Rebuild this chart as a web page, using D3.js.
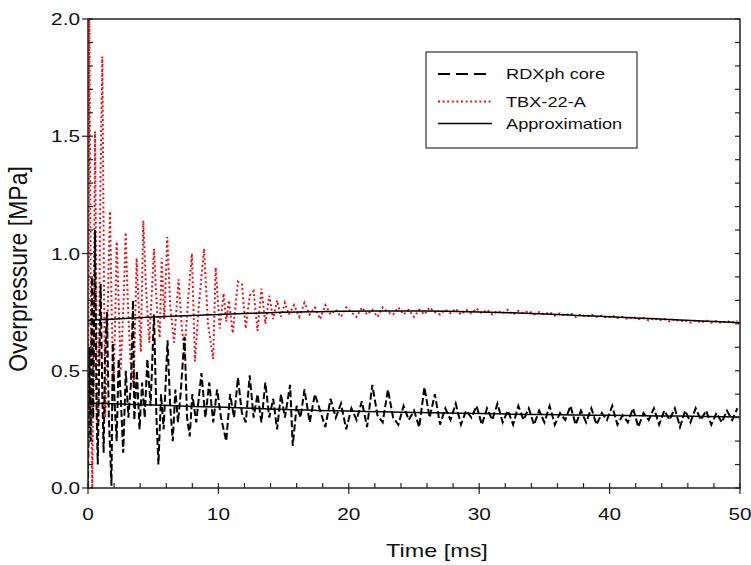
<!DOCTYPE html>
<html><head><meta charset="utf-8">
<script src="https://cdn.jsdelivr.net/npm/d3@7"></script>
<style>body{margin:0;background:#fff}text{font-family:Arial,"Liberation Sans",sans-serif;fill:#111}</style>
</head><body><svg id="c" width="751" height="565"></svg>
<script>
// ---------------- data ----------------
const seriesNames = ["RDXph core", "TBX-22-A", "Approximation"];
const xTicks = [0, 10, 20, 30, 40, 50];
const yTicks = [0.0, 0.5, 1.0, 1.5, 2.0];

// RDXph core (black dashed) - early irregular samples
const rdxEarlyT = [0,0.1,0.2,0.3,0.4,0.54,0.65,0.75,0.85,0.97,1.1,1.2,1.3,1.45,1.6,1.8,1.9,2.05,2.2,2.35,2.5,2.7,2.9,3.1,3.3,3.45,3.55,3.75,3.95,4.15,4.35,4.55,4.8,5.06,5.25,5.4,5.6,5.8,6.1,6.3,6.5,6.7,6.9,7.1,7.4,7.6,7.8,8.0,8.3,8.7,9.0,9.3,9.6,9.9,10.2,10.6,10.9,11.2,11.5,11.8,12.1,12.4,12.7,13.0,13.3,13.6,13.9,14.2,14.5,14.8,15.1,15.5,15.7,16.0,16.3,16.6];
const rdxEarlyV = [0.0,0.6,0.2,0.9,0.3,1.1,0.35,0.1,0.5,0.87,0.4,0.15,0.55,0.75,0.3,0.01,0.62,0.35,0.2,0.55,0.4,0.15,0.5,0.3,0.45,0.8,0.29,0.5,0.25,0.45,0.3,0.55,0.35,0.74,0.3,0.1,0.4,0.25,0.63,0.35,0.2,0.42,0.28,0.4,0.645,0.3,0.22,0.4,0.28,0.49,0.3,0.45,0.28,0.42,0.3,0.2,0.4,0.3,0.47,0.32,0.28,0.48,0.3,0.4,0.28,0.45,0.3,0.38,0.25,0.4,0.3,0.44,0.18,0.35,0.3,0.42];
// RDXph core - later samples every 0.4 ms from 17.0 ms
const rdxLateStart = 17.0, rdxLateStep = 0.4;
const rdxLateV = [0.28,0.40,0.33,0.26,0.38,0.30,0.36,0.25,0.34,0.29,0.37,0.26,0.44,0.31,0.28,0.42,0.30,0.27,0.35,0.29,0.33,0.26,0.43,0.30,0.40,0.27,0.34,0.29,0.36,0.27,0.33,0.30,0.35,0.27,0.34,0.29,0.36,0.28,0.33,0.27,0.35,0.29,0.34,0.27,0.33,0.28,0.35,0.27,0.32,0.29,0.35,0.27,0.33,0.28,0.34,0.27,0.32,0.29,0.35,0.27,0.31,0.28,0.34,0.26,0.32,0.29,0.34,0.27,0.33,0.29,0.34,0.26,0.33,0.28,0.34,0.29,0.33,0.27,0.32,0.28,0.33,0.29,0.34];

// TBX-22-A (red dotted) - early irregular samples
const tbxEarlyT = [0,0.05,0.1,0.18,0.25,0.33,0.42,0.54,0.65,0.75,0.85,0.95,1.1,1.22,1.32,1.45,1.58,1.69,1.82,1.95,2.08,2.2,2.35,2.5,2.7,2.89,3.05,3.25,3.5,3.73,3.95,4.05,4.24,4.45,4.7,5.06,5.3,5.5,5.65,5.85,6.08,6.3,6.6,6.95,7.2,7.4,7.7,7.97,8.2,8.5,8.9,9.2,9.6,9.79,10.1,10.4,10.6,10.8,11.1,11.5,11.8,12.1,12.4,12.7,13.0,13.3,13.6,13.9,14.2,14.5,14.8,15.1,15.4];
const tbxEarlyV = [0.0,1.0,2.0,1.2,0.3,0.0,0.6,1.52,0.7,0.15,0.6,1.3,1.84,0.9,0.3,0.55,0.95,1.18,0.75,0.45,0.7,1.05,0.8,0.5,0.75,1.09,0.8,0.55,0.43,0.98,0.7,0.58,1.14,0.85,0.62,1.02,0.75,0.64,0.98,0.72,1.07,0.78,0.62,0.89,0.68,0.575,0.82,1.0,0.54,0.78,1.02,0.7,0.55,0.94,0.68,0.83,0.71,0.8,0.66,0.88,0.87,0.68,0.82,0.84,0.67,0.85,0.7,0.82,0.72,0.8,0.73,0.79,0.74];
// TBX-22-A - later samples every 0.4 ms from 15.8 ms
const tbxLateStart = 15.8, tbxLateStep = 0.4;
const tbxLateV = [0.78,0.73,0.79,0.74,0.77,0.72,0.78,0.74,0.76,0.73,0.77,0.75,0.73,0.77,0.74,0.76,0.73,0.77,0.75,0.74,0.77,0.74,0.76,0.73,0.76,0.74,0.77,0.75,0.74,0.76,0.745,0.765,0.74,0.76,0.745,0.765,0.745,0.76,0.74,0.755,0.745,0.76,0.74,0.755,0.745,0.755,0.74,0.75,0.74,0.75,0.735,0.745,0.735,0.745,0.73,0.74,0.73,0.74,0.73,0.735,0.725,0.735,0.725,0.73,0.72,0.73,0.72,0.725,0.715,0.725,0.715,0.72,0.71,0.72,0.71,0.715,0.705,0.715,0.705,0.715,0.705,0.712,0.703,0.712,0.705,0.712];

// Approximation curves sampled every 2.5 ms
const approxT = [0,2.5,5,7.5,10,12.5,15,17.5,20,22.5,25,27.5,30,32.5,35,37.5,40,42.5,45,47.5,50];
const approxTbxV = [0.715,0.722,0.729,0.735,0.740,0.745,0.749,0.752,0.754,0.755,0.755,0.754,0.751,0.747,0.742,0.736,0.730,0.724,0.718,0.711,0.705];
const approxRdxV = [0.362,0.358,0.354,0.349,0.345,0.340,0.335,0.331,0.328,0.325,0.322,0.320,0.318,0.315,0.313,0.311,0.310,0.308,0.307,0.305,0.303];

// ---------------- chart ----------------
const svg = d3.select("#c");
const L = 88, R = 740, T = 19, B = 488;
const x = d3.scaleLinear().domain([0, 50]).range([L, R]);
const y = d3.scaleLinear().domain([0, 2]).range([B, T]);
const SX = 1.3; // horizontal text stretch of the reference

function pts(ts, vs) { return ts.map((t, i) => [t, vs[i]]); }
function latePts(start, step, vs) { return vs.map((v, i) => [start + i * step, v]); }
const rdx = pts(rdxEarlyT, rdxEarlyV).concat(latePts(rdxLateStart, rdxLateStep, rdxLateV));
const tbx = pts(tbxEarlyT, tbxEarlyV).concat(latePts(tbxLateStart, tbxLateStep, tbxLateV));
const apT = pts(approxT, approxTbxV), apR = pts(approxT, approxRdxV);

const line = d3.line().x(d => x(d[0])).y(d => y(d[1]));
const curve = d3.line().curve(d3.curveMonotoneX).x(d => x(d[0])).y(d => y(d[1]));

svg.append("clipPath").attr("id", "clip").append("rect")
  .attr("x", L).attr("y", T - 1).attr("width", R - L).attr("height", B - T + 2);
const g = svg.append("g").attr("clip-path", "url(#clip)");

g.append("path").datum(tbx).attr("d", line).attr("fill", "none")
  .attr("stroke", "#e8141b").attr("stroke-width", 2).attr("stroke-dasharray", "2,2.6");
g.append("path").datum(rdx).attr("d", line).attr("fill", "none")
  .attr("stroke", "#000").attr("stroke-width", 2).attr("stroke-dasharray", "7,3");
[apT, apR].forEach(d => g.append("path").datum(d).attr("d", curve).attr("fill", "none")
  .attr("stroke", "#000").attr("stroke-width", 1.5));

// axes
const ax = svg.append("g").attr("stroke", "#222").attr("stroke-width", 1.2);
ax.append("rect").attr("x", L).attr("y", T).attr("width", R - L).attr("height", B - T).attr("fill", "none").attr("stroke-width", 1.5);

const yMinor = d3.range(0, 2.0001, 0.1);
yTicks.forEach(v => ax.append("line").attr("x1", L - 6).attr("x2", L).attr("y1", y(v)).attr("y2", y(v)));
yMinor.forEach(v => ax.append("line").attr("x1", L).attr("x2", L + 5).attr("y1", y(v)).attr("y2", y(v)));
yMinor.forEach(v => ax.append("line").attr("x1", R - 5).attr("x2", R).attr("y1", y(v)).attr("y2", y(v)));
const xMinor = d3.range(0, 50.001, 2);
xTicks.forEach(v => ax.append("line").attr("x1", x(v)).attr("x2", x(v)).attr("y1", B).attr("y2", B + 6));
xMinor.forEach(v => ax.append("line").attr("x1", x(v)).attr("x2", x(v)).attr("y1", B).attr("y2", B - 5));

const fmt = d3.format(".1f");
yTicks.forEach(v => svg.append("text").attr("transform", `translate(80,${y(v) + 6}) scale(${SX},1)`)
  .attr("text-anchor", "end").attr("font-size", 16).text(fmt(v)));
xTicks.forEach(v => svg.append("text").attr("transform", `translate(${x(v)},${B + 32}) scale(${SX},1)`)
  .attr("text-anchor", "middle").attr("font-size", 16).text(v));

svg.append("text").attr("transform", `translate(437,557) scale(${SX},1)`).attr("text-anchor", "middle")
  .attr("font-size", 18).text("Time [ms]");
svg.append("text").attr("transform", `translate(27,269) scale(1.1,1) rotate(-90)`).attr("text-anchor", "middle")
  .attr("font-size", 23).text("Overpressure [MPa]");

// legend
const lg = svg.append("g");
lg.append("rect").attr("x", 426).attr("y", 52).attr("width", 211).attr("height", 96)
  .attr("fill", "#fff").attr("stroke", "#333").attr("stroke-width", 1.2);
const legY = [74, 101.5, 123.5];
const legStyle = [
  {stroke: "#000", dash: "12,6", w: 1.8},
  {stroke: "#e8141b", dash: "2,2.6", w: 1.8},
  {stroke: "#000", dash: null, w: 1.5}
];
seriesNames.forEach((n, i) => {
  lg.append("line").attr("x1", 438).attr("x2", 492).attr("y1", legY[i]).attr("y2", legY[i])
    .attr("stroke", legStyle[i].stroke).attr("stroke-width", legStyle[i].w)
    .attr("stroke-dasharray", legStyle[i].dash);
  lg.append("text").attr("transform", `translate(506,${legY[i] + 5}) scale(${SX},1)`)
    .attr("font-size", 14).text(n);
});
</script></body></html>
